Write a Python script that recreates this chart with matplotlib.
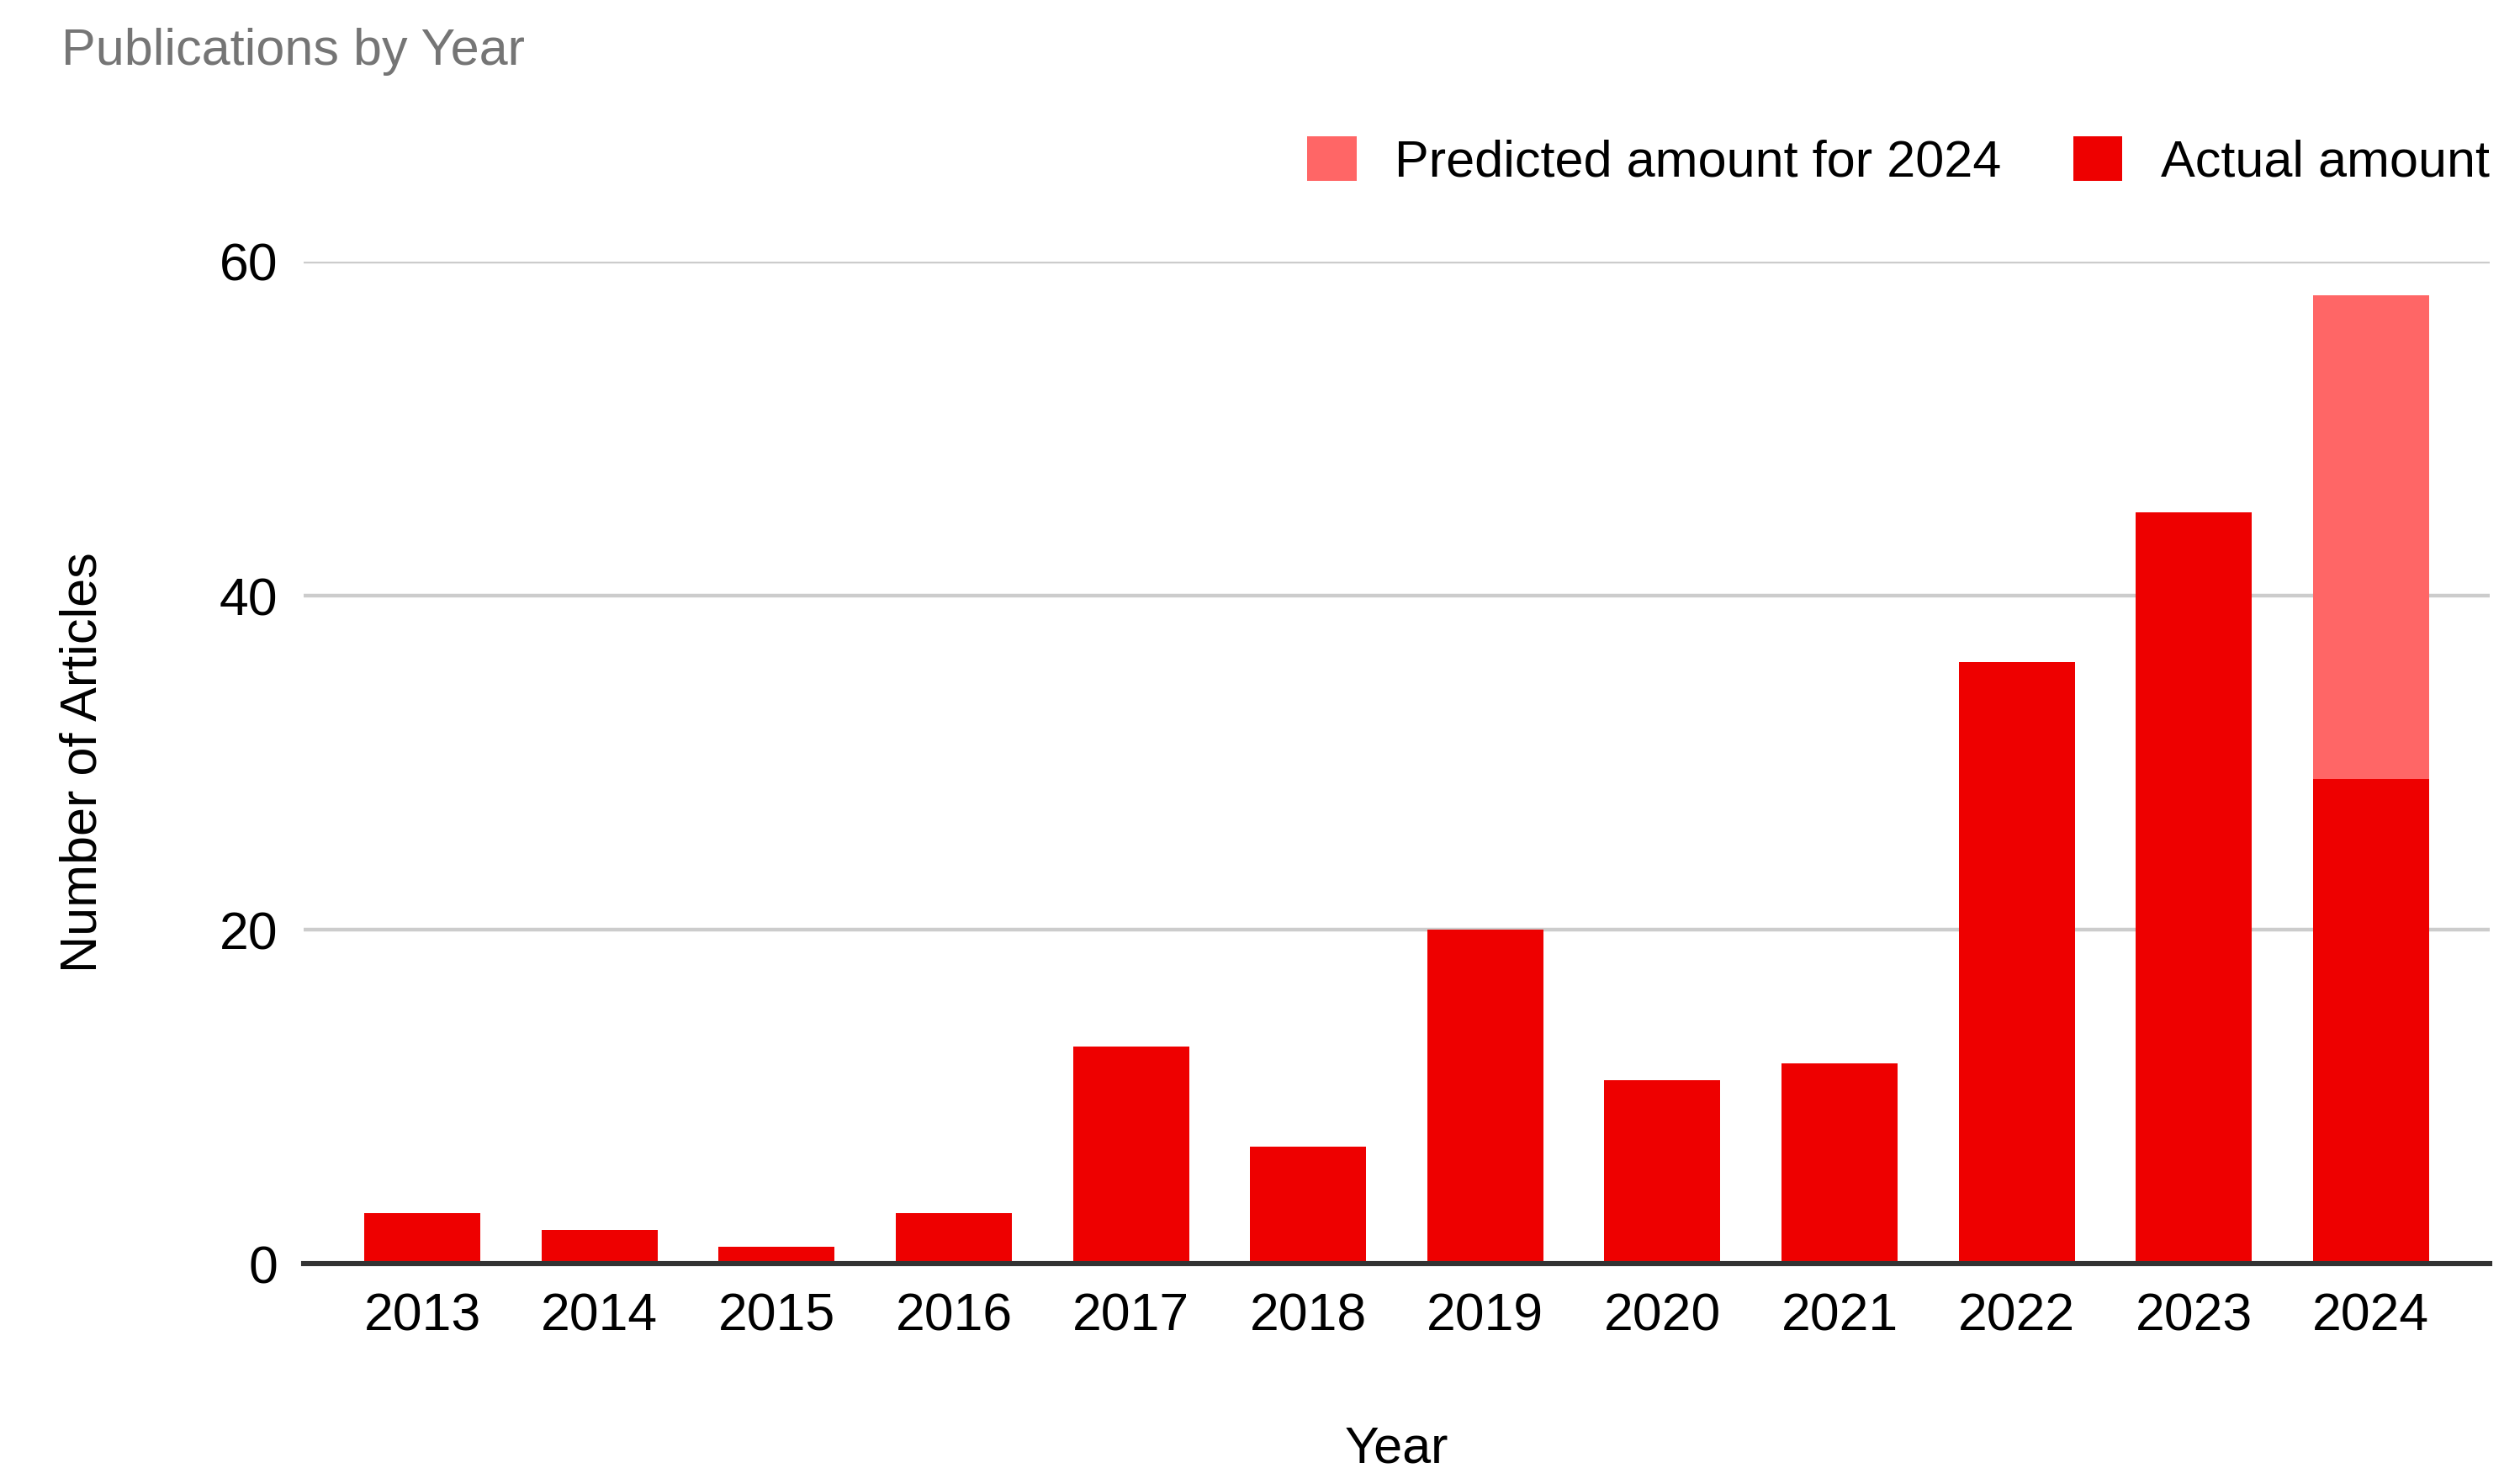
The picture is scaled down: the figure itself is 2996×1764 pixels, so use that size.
import matplotlib
matplotlib.use("Agg")
import matplotlib.pyplot as plt
from matplotlib.patches import Patch
import numpy as np

years = ["2013", "2014", "2015", "2016", "2017", "2018", "2019", "2020", "2021", "2022", "2023", "2024"]
actual = [3, 2, 1, 3, 13, 7, 20, 11, 12, 36, 45, 29]
predicted_extra = [0, 0, 0, 0, 0, 0, 0, 0, 0, 0, 0, 29]
yticks = [0, 20, 40, 60]

plt.rcParams['font.family'] = ['Liberation Sans', 'DejaVu Sans']

actual_color = "#EE0000"
pred_color = "#FF6666"

fig = plt.figure(figsize=(14.98, 8.82), dpi=200)
ax = fig.add_axes([0.1205, 0.1485, 0.8675, 0.6752])

x = np.arange(len(years))
ax.bar(x, actual, width=0.655, color=actual_color, zorder=3, label="Actual amount")
ax.bar(x, predicted_extra, bottom=actual, width=0.655, color=pred_color, zorder=3,
       label="Predicted amount for 2024")

ax.set_xlim(-0.67, len(years) - 1 + 0.67)
ax.set_ylim(0, 60)
ax.set_yticks(yticks)
ax.set_xticks(x)
ax.set_xticklabels(years)
ax.tick_params(axis='both', length=0, labelsize=22.5, colors="#000000")
ax.tick_params(axis='x', pad=12)
ax.tick_params(axis='y', pad=11)
ax.grid(axis='y', color="#CCCCCC", linewidth=1.6, zorder=0)
ax.set_axisbelow(True)
for s in ["top", "right", "left"]:
    ax.spines[s].set_visible(False)
ax.spines["bottom"].set_color("#333333")
ax.spines["bottom"].set_linewidth(2.2)
ax.spines["bottom"].set_zorder(4)

ax.set_xlabel("Year", fontsize=22, labelpad=36)
ax.set_ylabel("Number of Articles", fontsize=22, labelpad=48)

fig.text(0.0244, 0.965, "Publications by Year", fontsize=22, color="#757575",
         ha="left", va="center")

handles = [Patch(facecolor=pred_color, edgecolor="none"),
           Patch(facecolor=actual_color, edgecolor="none")]
labels = ["Predicted amount for 2024", "Actual amount"]
fig.legend(handles, labels, loc="center right", bbox_to_anchor=(0.988, 0.891), ncol=2,
           frameon=False, fontsize=22, handlelength=0.95, handleheight=0.95,
           handletextpad=0.75, columnspacing=1.4, borderaxespad=0, borderpad=0)

fig.savefig("out.png", dpi=200)
